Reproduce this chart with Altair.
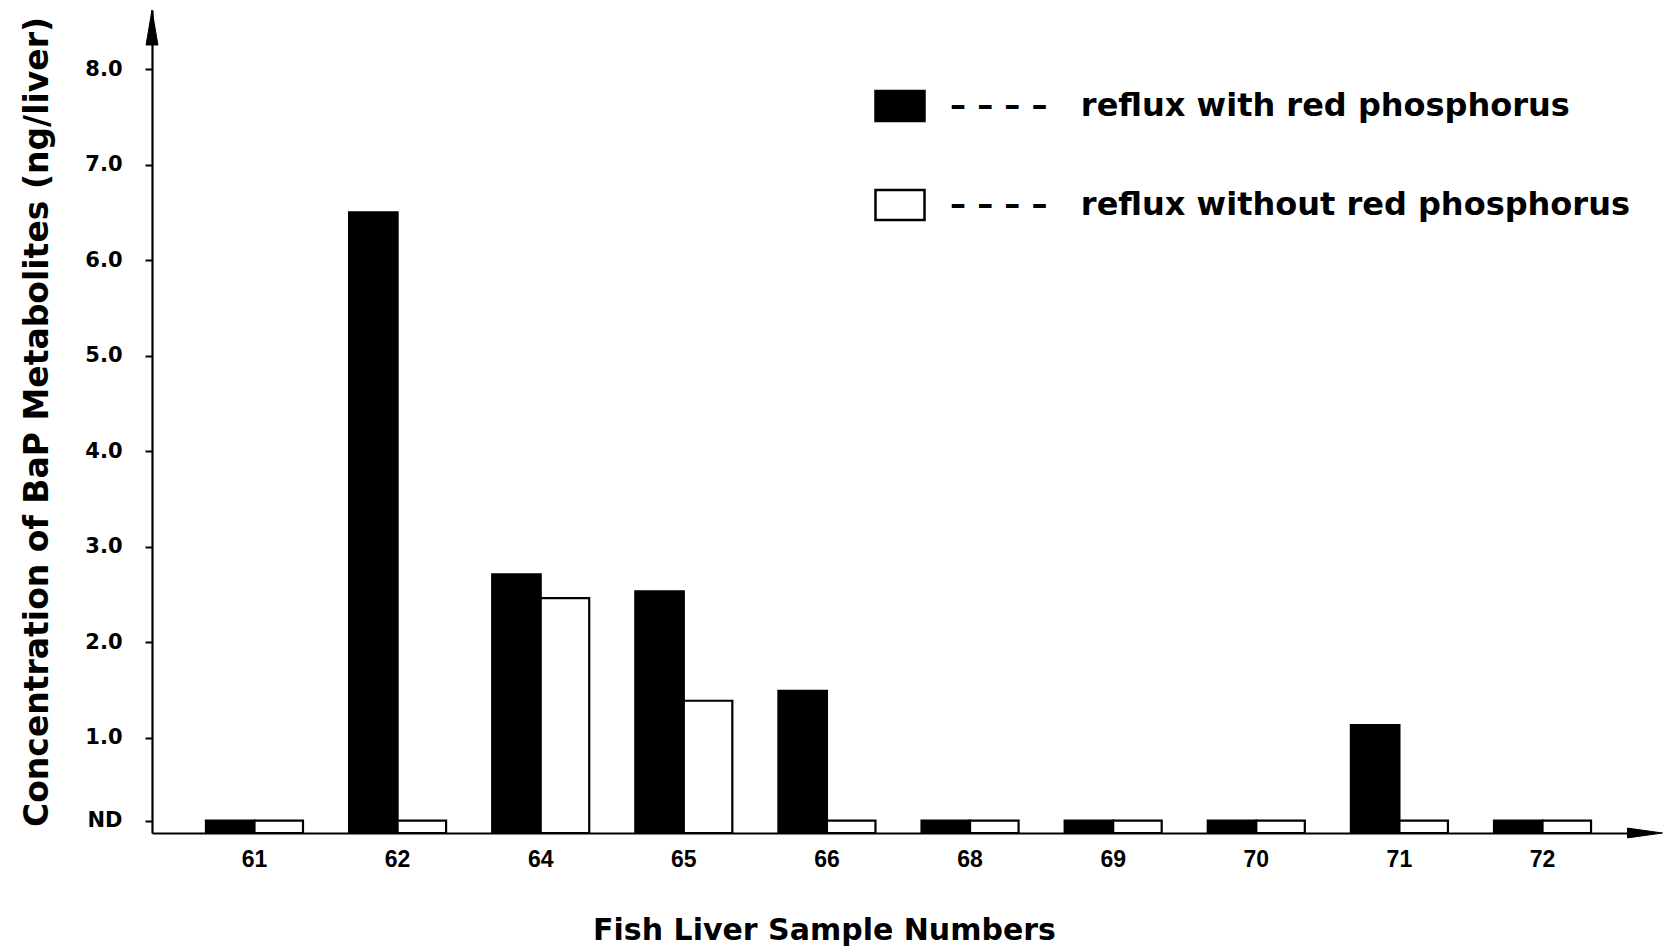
import altair as alt
import pandas as pd

samples = ["61", "62", "64", "65", "66", "68", "69", "70", "71", "72"]
with_red_p = [0.13, 6.50, 2.71, 2.53, 1.49, 0.13, 0.13, 0.13, 1.13, 0.13]
without_red_p = [0.13, 0.13, 2.46, 1.385, 0.13, 0.13, 0.13, 0.13, 0.13, 0.13]
series_names = ["reflux with red phosphorus", "reflux without red phosphorus"]
y_ticks = [0.13, 1, 2, 3, 4, 5, 6, 7, 8]

rows = []
for s, a, b in zip(samples, with_red_p, without_red_p):
    rows.append({"sample": s, "series": series_names[0], "value": a})
    rows.append({"sample": s, "series": series_names[1], "value": b})
df = pd.DataFrame(rows)

W, H = 1493, 823
FONT = "DejaVu Sans"

bars = alt.Chart(df).mark_bar(stroke="black", strokeWidth=2.2).encode(
    x=alt.X("sample:N", sort=samples,
            scale=alt.Scale(paddingInner=0.322, paddingOuter=0.377),
            axis=alt.Axis(title="Fish Liver Sample Numbers", labelAngle=0,
                          ticks=False, domainColor="black", domainWidth=2.2,
                          labelFont="Liberation Sans", labelFontWeight="bold",
                          labelFontSize=23, labelColor="black", labelPadding=15,
                          titleFont=FONT, titleFontWeight="bold", titleFontSize=30,
                          titleColor="black", titleX=672, titleY=106,
                          titleAlign="center", titleBaseline="alphabetic")),
    xOffset=alt.XOffset("series:N", sort=series_names,
                        scale=alt.Scale(paddingInner=0, paddingOuter=0)),
    y=alt.Y("value:Q", scale=alt.Scale(domain=[0, 8.62], nice=False, zero=True),
            axis=alt.Axis(title="Concentration of BaP Metabolites (ng/liver)",
                          values=y_ticks,
                          labelExpr="datum.value < 0.5 ? 'ND' : format(datum.value, '.1f')",
                          grid=False, domainColor="black", domainWidth=2.2,
                          tickColor="black", tickWidth=2, tickSize=7,
                          labelFont=FONT, labelFontWeight="bold", labelFontSize=21,
                          labelColor="black", labelPadding=23,
                          titleFont=FONT, titleFontWeight="bold", titleFontSize=33,
                          titleColor="black", titleX=-115, titleY=H / 2,
                          titleAngle=270, titleAlign="center",
                          titleBaseline="middle")),
    fill=alt.Fill("series:N", sort=series_names,
                  scale=alt.Scale(domain=series_names, range=["black", "white"]),
                  legend=alt.Legend(title=None, orient="none", legendX=722,
                                    legendY=70, direction="vertical",
                                    symbolType="M-1,-0.61H1V0.61H-1Z",
                                    symbolSize=2401, symbolStrokeColor="black",
                                    symbolStrokeWidth=2.5, symbolOpacity=1,
                                    labelExpr="'–\u00a0–\u00a0–\u00a0–\u00a0\u00a0\u00a0' + datum.label",
                                    labelFont=FONT, labelFontWeight="bold",
                                    labelFontSize=32, labelColor="black",
                                    labelLimit=0, labelOffset=24, rowPadding=53)),
)

marker = pd.DataFrame({"m": [1]})
x_arrow = alt.Chart(marker).mark_point(
    shape="M-1,-0.28L1,0L-1,0.28Z", filled=True, fill="black", stroke="black",
    strokeWidth=1, size=1225, opacity=1
).encode(x=alt.value(W), y=alt.value(H))
y_arrow = alt.Chart(marker).mark_point(
    shape="M-0.34,1L0,-1L0.34,1Z", filled=True, fill="black", stroke="black",
    strokeWidth=1, size=1225, opacity=1
).encode(x=alt.value(0), y=alt.value(17.5))

chart = alt.layer(bars, x_arrow, y_arrow).properties(
    width=W, height=H,
    autosize=alt.AutoSizeParams(type="none"),
    padding={"left": 152, "top": 10, "right": 18, "bottom": 113},
    background="white",
).configure_view(stroke=None)

chart.save("out.html", embed_options={"renderer": "svg", "actions": False})
